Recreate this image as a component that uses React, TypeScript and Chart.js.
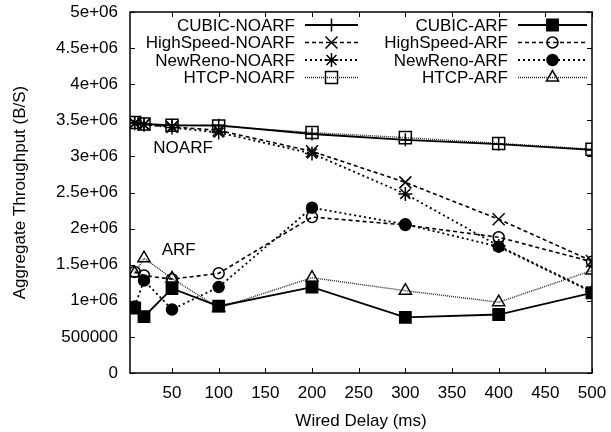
import React, { useEffect, useRef } from 'react';
import { Chart, registerables } from 'chart.js';
import { drawPoint } from 'chart.js/helpers';

Chart.register(...registerables);

const delays = [10, 20, 50, 100, 200, 300, 400, 500];
const xTickValues = [50, 100, 150, 200, 250, 300, 350, 400, 450, 500];
const yTickValues = [0, 500000, 1000000, 1500000, 2000000, 2500000, 3000000, 3500000, 4000000, 4500000, 5000000];
const yTickLabels = ['0', '500000', '1e+06', '1.5e+06', '2e+06', '2.5e+06', '3e+06', '3.5e+06', '4e+06', '4.5e+06', '5e+06'];

const cubicNoarf = [3470000, 3450000, 3430000, 3430000, 3310000, 3230000, 3170000, 3090000];
const highspeedNoarf = [3460000, 3440000, 3410000, 3360000, 3070000, 2640000, 2130000, 1550000];
const newrenoNoarf = [3460000, 3440000, 3400000, 3330000, 3040000, 2480000, 1760000, 1130000];
const htcpNoarf = [3470000, 3450000, 3430000, 3420000, 3330000, 3260000, 3180000, 3100000];
const cubicArf = [900000, 780000, 1170000, 925000, 1190000, 770000, 810000, 1110000];
const highspeedArf = [1400000, 1350000, 1300000, 1380000, 2160000, 2050000, 1880000, 1540000];
const newrenoArf = [920000, 1280000, 880000, 1190000, 2290000, 2060000, 1750000, 1120000];
const htcpArf = [1380000, 1590000, 1310000, 900000, 1320000, 1140000, 980000, 1420000];

const seriesLabels = [
  'CUBIC-NOARF', 'HighSpeed-NOARF', 'NewReno-NOARF', 'HTCP-NOARF',
  'CUBIC-ARF', 'HighSpeed-ARF', 'NewReno-ARF', 'HTCP-ARF',
];
const seriesValues = [cubicNoarf, highspeedNoarf, newrenoNoarf, htcpNoarf, cubicArf, highspeedArf, newrenoArf, htcpArf];

const annotationTexts = ['NOARF', 'ARF'];
const annotationX = [30, 39];
const annotationY = [3110000, 1700000];

const FONT = { family: 'Liberation Sans, Arial, sans-serif', size: 17 };
const FONT_CSS = '17px "Liberation Sans", Arial, sans-serif';

const SOLID: number[] = [];
const DASHED = [4, 3];
const DOTTED = [2, 3];
const FINE = [1, 1];

const styles = [
  { dash: SOLID, point: 'cross', radius: 6.5, fill: false, width: 1.8, color: '#000' },
  { dash: DASHED, point: 'crossRot', radius: 8.5, fill: false, width: 1.6, color: '#000' },
  { dash: DOTTED, point: 'star', radius: 7, fill: false, width: 1.8, color: '#000' },
  { dash: FINE, point: 'rect', radius: 8.5, fill: false, width: 1.4, color: '#222' },
  { dash: SOLID, point: 'rect', radius: 8, fill: true, width: 1.8, color: '#000' },
  { dash: DASHED, point: 'circle', radius: 5.5, fill: false, width: 1.6, color: '#000' },
  { dash: DOTTED, point: 'circle', radius: 5.5, fill: true, width: 1.8, color: '#000' },
  { dash: FINE, point: 'triangle', radius: 7, fill: false, width: 1.4, color: '#222' },
];

const gnuplotPlugin = {
  id: 'gnuplotDecor',
  beforeDatasetsDraw(chart: any) {
    const { ctx, chartArea: a, scales } = chart;
    const x = scales.x;
    const y = scales.y;
    ctx.save();
    ctx.strokeStyle = '#000';
    ctx.lineWidth = 1;
    ctx.setLineDash([]);
    ctx.beginPath();
    xTickValues.forEach((v) => {
      const px = Math.round(x.getPixelForValue(v)) + 0.5;
      ctx.moveTo(px, a.bottom);
      ctx.lineTo(px, a.bottom - 5);
      ctx.moveTo(px, a.top);
      ctx.lineTo(px, a.top + 5);
    });
    yTickValues.forEach((v) => {
      const py = Math.round(y.getPixelForValue(v)) + 0.5;
      ctx.moveTo(a.left, py);
      ctx.lineTo(a.left + 5, py);
      ctx.moveTo(a.right, py);
      ctx.lineTo(a.right - 5, py);
    });
    ctx.stroke();
    ctx.lineWidth = 1.5;
    ctx.strokeRect(a.left, a.top, a.right - a.left, a.bottom - a.top);
    ctx.restore();
  },
  afterDatasetsDraw(chart: any) {
    const { ctx, scales } = chart;
    const x = scales.x;
    const y = scales.y;
    ctx.save();
    ctx.font = FONT_CSS;
    ctx.fillStyle = '#000';
    ctx.textBaseline = 'middle';
    ctx.textAlign = 'left';
    annotationTexts.forEach((t, i) => {
      ctx.fillText(t, x.getPixelForValue(annotationX[i]), y.getPixelForValue(annotationY[i]));
    });
    const textRight = [295, 508];
    const sampleStart = [305, 518];
    const sampleEnd = [358, 587];
    const rowY = [25, 42.5, 60, 77.5];
    chart.data.datasets.forEach((ds: any, i: number) => {
      const col = i < 4 ? 0 : 1;
      const row = i % 4;
      const st = styles[i];
      const yy = rowY[row];
      ctx.textAlign = 'right';
      ctx.fillStyle = '#000';
      ctx.fillText(ds.label, textRight[col], yy + 1);
      ctx.strokeStyle = st.color;
      ctx.lineWidth = st.width;
      ctx.setLineDash(st.dash);
      ctx.beginPath();
      ctx.moveTo(sampleStart[col], yy);
      ctx.lineTo(sampleEnd[col], yy);
      ctx.stroke();
      ctx.setLineDash([]);
      ctx.fillStyle = st.fill ? '#000' : 'rgba(0,0,0,0)';
      ctx.lineWidth = 1.5;
      ctx.strokeStyle = '#000';
      drawPoint(ctx, { pointStyle: st.point, rotation: 0, radius: st.radius, borderWidth: 1.5 } as any,
        (sampleStart[col] + sampleEnd[col]) / 2, yy);
    });
    ctx.restore();
  },
};

export default function App() {
  const ref = useRef<HTMLCanvasElement | null>(null);
  useEffect(() => {
    if (!ref.current) return;
    const datasets = seriesLabels.map((label, i) => {
      const st = styles[i];
      return {
        label,
        data: delays.map((d, j) => ({ x: d, y: seriesValues[i][j] })),
        borderColor: st.color,
        borderWidth: st.width,
        borderDash: st.dash,
        pointStyle: st.point,
        pointRadius: st.radius,
        pointBorderWidth: 1.5,
        pointBorderColor: '#000',
        pointBackgroundColor: st.fill ? '#000' : 'rgba(0,0,0,0)',
        fill: false,
        tension: 0,
      };
    });
    const chart = new Chart(ref.current, {
      type: 'line',
      data: { datasets } as any,
      plugins: [gnuplotPlugin],
      options: {
        animation: false,
        responsive: false,
        layout: { padding: { top: 12, right: 19, left: 0, bottom: 0 } },
        plugins: { legend: { display: false }, tooltip: { enabled: false } },
        scales: {
          x: {
            type: 'linear',
            min: 5,
            max: 500,
            afterBuildTicks: (s: any) => { s.ticks = xTickValues.map((v) => ({ value: v })); },
            afterFit: (s: any) => { s.height = 59; s.paddingLeft = 0; s.paddingRight = 0; },
            ticks: {
              font: FONT, color: '#000', padding: 10, maxRotation: 0, autoSkip: false,
              callback: (v: any) => String(v),
            },
            grid: { display: false, drawTicks: false },
            border: { display: false },
            title: { display: true, text: 'Wired Delay (ms)', font: FONT, color: '#000', padding: { top: 4, bottom: 0 } },
          },
          y: {
            type: 'linear',
            min: 0,
            max: 5000000,
            afterBuildTicks: (s: any) => { s.ticks = yTickValues.map((v) => ({ value: v })); },
            afterFit: (s: any) => { s.width = 130; s.paddingTop = 0; s.paddingBottom = 0; },
            ticks: {
              font: FONT, color: '#000', padding: 12, autoSkip: false,
              callback: (_v: any, i: number) => yTickLabels[i],
            },
            grid: { display: false, drawTicks: false },
            border: { display: false },
            title: { display: true, text: 'Aggregate Throughput (B/S)', font: FONT, color: '#000', padding: { top: 10, bottom: 0 } },
          },
        },
      } as any,
    });
    return () => chart.destroy();
  }, []);
  return (
    <div style={{ position: 'fixed', left: 0, top: 0, width: 611, height: 432, background: '#fff' }}>
      <canvas ref={ref} width={611} height={432} style={{ display: 'block' }} />
    </div>
  );
}
